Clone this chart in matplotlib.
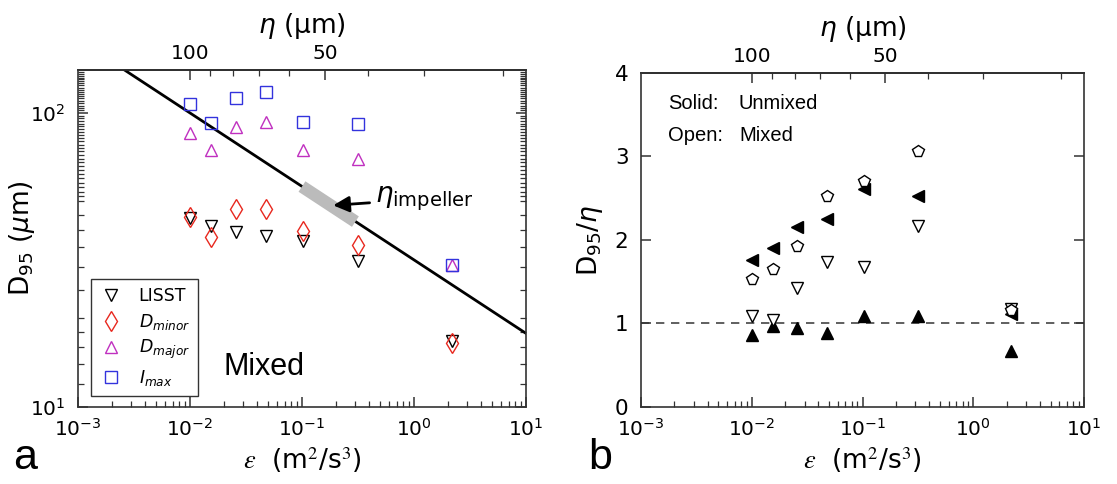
import numpy as np
import matplotlib.pyplot as plt
from matplotlib.ticker import FixedLocator, NullFormatter, LogFormatterSciNotation

plt.rcParams['font.family'] = ['DejaVu Sans']
plt.rcParams['mathtext.fontset'] = 'dejavusans'

# dissipation rate (m^2/s^3) for the seven runs
eps = [0.01, 0.0154, 0.0256, 0.0476, 0.103, 0.318, 2.18]

# panel a: D95 (um), mixed runs
d_lisst = [43.8, 41.2, 39.5, 38.3, 36.6, 31.3, 16.8]
d_minor = [44.3, 37.9, 47.3, 47.3, 39.7, 35.5, 16.5]
d_major = [85.3, 74.8, 89.8, 92.9, 74.8, 69.7, 30.5]
i_max = [107.3, 92.4, 112.8, 117.7, 93.3, 91.5, 30.5]

# Kolmogorov scale line and impeller range
eps_line = [1e-3, 1e1]
eta_line = [177.8, 17.8]
eps_imp = [0.1, 0.3]
eta_imp = [56.2, 42.7]

# panel b: D95/eta
r_pent_open = [1.53, 1.65, 1.92, 2.53, 2.70, 3.07, 1.16]
r_left_solid = [1.76, 1.90, 2.15, 2.25, 2.61, 2.53, 1.11]
r_down_open = [1.08, 1.04, 1.42, 1.73, 1.67, 2.16, 1.17]
r_up_solid = [0.86, 0.96, 0.94, 0.88, 1.08, 1.08, 0.67]

eta_major = [100, 50]
eta_minor = [90, 80, 70, 60, 40, 30, 20]

NU = 1e-6
TICK_FS = 14.5
LABEL_FS = 19


def eps_to_eta(e):
    e = np.asarray(e, dtype=float)
    with np.errstate(divide='ignore', invalid='ignore'):
        return 1e6 * (NU**3 / e) ** 0.25


def eta_to_eps(h):
    h = np.asarray(h, dtype=float)
    with np.errstate(divide='ignore', invalid='ignore'):
        return NU**3 / (h * 1e-6) ** 4


def style_axes(ax):
    for s in ax.spines.values():
        s.set_linewidth(1.2)
        s.set_color('#333333')
    ax.tick_params(which='both', direction='in', top=False, right=True,
                   labelsize=TICK_FS, color='#333333')
    ax.tick_params(which='major', length=7, width=1.1)
    ax.tick_params(which='minor', length=4, width=0.9)
    ax.tick_params(axis='x', pad=8)
    ax.tick_params(axis='y', pad=9)


def add_eta_axis(ax):
    sec = ax.secondary_xaxis('top', functions=(eps_to_eta, eta_to_eps))
    sec.xaxis.set_major_locator(FixedLocator(eta_major))
    sec.xaxis.set_minor_locator(FixedLocator(eta_minor))
    sec.set_xticklabels([str(v) for v in eta_major])
    sec.xaxis.set_minor_formatter(NullFormatter())
    sec.tick_params(which='both', direction='in', labelsize=TICK_FS, color='#333333')
    sec.tick_params(which='major', length=7, width=1.1, pad=5)
    sec.tick_params(which='minor', length=4, width=0.9)
    sec.spines['top'].set_linewidth(1.2)
    sec.set_xlabel(r'$\eta$ (μm)', fontsize=LABEL_FS, labelpad=8)
    return sec


fig = plt.figure(figsize=(11.17, 4.84), dpi=100)
ax1 = fig.add_axes([0.0698, 0.1591, 0.4011, 0.6963])
ax2 = fig.add_axes([0.5739, 0.1601, 0.3966, 0.689])

# ---- panel a ----
ax1.plot(eps_line, eta_line, color='k', lw=2, zorder=2)
ax1.plot(eps_imp, eta_imp, color='#bbbbbb', lw=9, solid_capstyle='butt', zorder=3)
ms = 8
ax1.plot(eps, d_lisst, 'v', mfc='none', mec='k', ms=ms, mew=1, ls='none', label='LISST', zorder=4)
ax1.plot(eps, d_minor, 'd', mfc='none', mec='#e8281e', ms=10, mew=1, ls='none',
         label=r'$D_{minor}$', zorder=4)
ax1.plot(eps, d_major, '^', mfc='none', mec='#c030c0', ms=ms, mew=1, ls='none',
         label=r'$D_{major}$', zorder=4)
ax1.plot(eps, i_max, 's', mfc='none', mec='#3333dd', ms=ms, mew=1, ls='none',
         label=r'$I_{max}$', zorder=4)

ax1.set_xscale('log')
ax1.set_yscale('log')
ax1.set_xlim(1e-3, 1e1)
ax1.set_ylim(10, 140)
style_axes(ax1)
ax1.xaxis.set_major_formatter(LogFormatterSciNotation())
ax1.yaxis.set_major_locator(FixedLocator([10, 100]))
ax1.yaxis.set_minor_locator(FixedLocator(
    [12, 14, 16, 18, 20, 25, 30, 35, 40, 45] + list(range(50, 140, 2))))
ax1.yaxis.set_minor_formatter(NullFormatter())
ax1.set_xlabel(r'$\varepsilon$  (m$^2$/s$^3$)', fontsize=LABEL_FS, labelpad=4,
               math_fontfamily='stix')
ax1.set_ylabel(r'D$_{95}$ ($\mu$m)', fontsize=LABEL_FS)
ax1.yaxis.set_label_coords(-0.092, 0.5)
add_eta_axis(ax1)

ax1.annotate(r'$\eta_{\mathrm{impeller}}$', xy=(0.19, 48.5), xytext=(0.45, 51),
             fontsize=20, va='center',
             arrowprops=dict(arrowstyle='-|>', color='k', lw=2, mutation_scale=24,
                             shrinkA=2, shrinkB=0))
ax1.text(0.324, 0.119, 'Mixed', transform=ax1.transAxes, fontsize=22,
         family='Liberation Sans', va='center')
leg = ax1.legend(loc='lower left', bbox_to_anchor=(0.029, 0.033), borderaxespad=0,
                 fontsize=12.5, frameon=True, fancybox=False, edgecolor='k',
                 handletextpad=0.9, labelspacing=0.38, borderpad=0.45, handlelength=1.4)
leg.get_frame().set_linewidth(1)

# ---- panel b ----
ax2.axhline(1, color='#444444', lw=1.2, ls=(0, (5, 4)), zorder=1)
ms2 = 8.5
ax2.plot(eps, r_up_solid, '^', color='k', ms=ms2, ls='none', zorder=3)
ax2.plot(eps, r_down_open, 'v', mfc='white', mec='k', ms=ms2, mew=1, ls='none', zorder=3)
ax2.plot(eps, r_left_solid, '<', color='k', ms=ms2, ls='none', zorder=3)
ax2.plot(eps, r_pent_open, 'p', mfc='white', mec='k', ms=ms2, mew=1, ls='none', zorder=4)

ax2.set_xscale('log')
ax2.set_xlim(1e-3, 1e1)
ax2.set_ylim(0, 4)
ax2.set_yticks([0, 1, 2, 3, 4])
style_axes(ax2)
ax2.tick_params(axis='y', labelsize=15.5)
ax2.xaxis.set_major_formatter(LogFormatterSciNotation())
ax2.set_xlabel(r'$\varepsilon$  (m$^2$/s$^3$)', fontsize=LABEL_FS, labelpad=4,
               math_fontfamily='stix')
ax2.set_ylabel(r'D$_{95}$/$\eta$', fontsize=LABEL_FS)
ax2.yaxis.set_label_coords(-0.081, 0.5)
add_eta_axis(ax2)

for lab, val, yy in [('Solid:', 'Unmixed', 0.91), ('Open:', 'Mixed', 0.814)]:
    ax2.text(0.061, yy, lab, transform=ax2.transAxes, fontsize=14.5,
             family='Liberation Sans', va='center')
    ax2.text(0.221, yy, val, transform=ax2.transAxes, fontsize=14.5,
             family='Liberation Sans', va='center')

fig.text(0.012, 0.012, 'a', fontsize=31, family='Liberation Sans', va='bottom')
fig.text(0.527, 0.012, 'b', fontsize=31, family='Liberation Sans', va='bottom')

fig.savefig('out.png', dpi=100)
